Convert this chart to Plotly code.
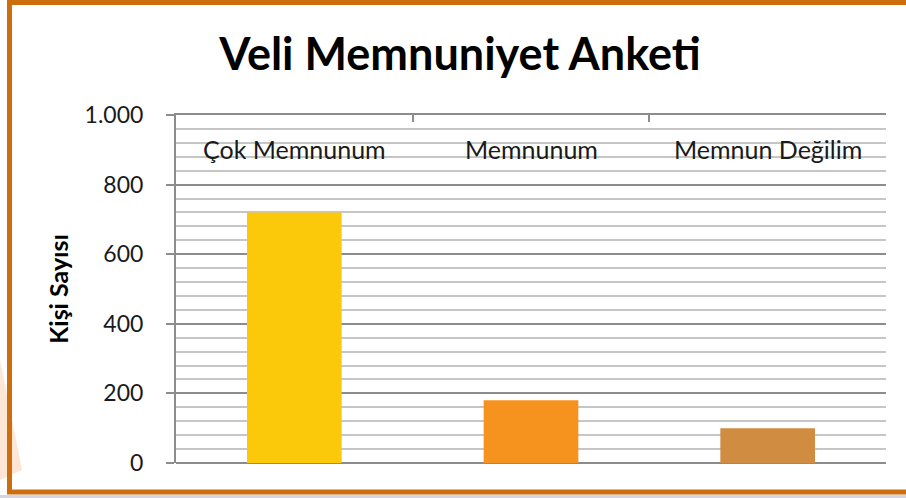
import plotly.graph_objects as go

categories = ["Çok Memnunum", "Memnunum", "Memnun Değilim"]
values = [720, 180, 100]
bar_colors = ["#FCC80A", "#F6921E", "#D08C40"]
y_ticks = [0, 200, 400, 600, 800, 1000]
title_text = "Veli Memnuniyet Anketi"
y_title = "Kişi Sayısı"

W, H = 906, 498
L, R, T, B = 176, 20, 115, 35
pw, ph = W - L - R, H - T - B

def px(x):
    return (x - L) / pw

def py(y):
    return (H - B - y) / ph

fig = go.Figure()
fig.add_trace(go.Bar(x=categories, y=values, marker=dict(color=bar_colors, line=dict(width=0)),
                     hoverinfo="x+y"))

grid_major = "#8C8C8C"
grid_minor = "#C6C6C6"
font_family = "Lato, 'Open Sans', sans-serif"

fig.update_layout(
    width=W, height=H,
    margin=dict(l=L, r=R, t=T, b=B),
    paper_bgcolor="white", plot_bgcolor="white",
    separators=",.",
    bargap=0.6,
    showlegend=False,
    font=dict(family=font_family, color="#1a1a1a"),
    title=dict(text="<b>" + title_text + "</b>", x=460 / W, xanchor="center",
               y=1 - 54 / H, yanchor="middle", font=dict(size=45, color="black")),
    xaxis=dict(side="top", showline=True, linecolor=grid_major, linewidth=2,
               ticks="inside", tickson="boundaries", ticklen=7, tickcolor=grid_major, tickwidth=2,
               showticklabels=False, showgrid=False, zeroline=False),
    yaxis=dict(range=[0, 1000], tickmode="array", tickvals=y_ticks, tickformat=",d",
               showline=True, linecolor=grid_major,
               linewidth=2, ticks="outside", ticklen=8, tickcolor=grid_major, tickwidth=2,
               ticklabelstandoff=18,
               tickfont=dict(size=23, color="#1a1a1a"),
               showgrid=True, gridcolor=grid_major, gridwidth=2,
               zeroline=True, zerolinecolor=grid_major, zerolinewidth=2,
               minor=dict(tickmode="linear", dtick=40, showgrid=True, gridcolor=grid_minor, gridwidth=2),
               title=dict(text="<b>" + y_title + "</b>", font=dict(size=25, color="black"), standoff=9)),
)

# category labels drawn inside the plot, just under the top axis line
for c in categories:
    fig.add_annotation(x=c, xref="x", y=1, yref="paper", yshift=-34, yanchor="middle",
                       text=c, showarrow=False, font=dict(size=25, color="#1a1a1a"))

border = "#CC6E0E"
shapes = [
    dict(type="rect", xref="paper", yref="paper", x0=px(0), x1=px(W), y0=py(495), y1=py(H),
         line=dict(width=0), fillcolor="#D4D4E2", layer="below"),
    dict(type="path", xref="paper", yref="paper",
         path=f"M {px(0)} {py(360)} L {px(22)} {py(470)} L {px(0)} {py(480)} Z",
         line=dict(width=0), fillcolor="#FDE6D6", layer="below"),
    dict(type="path", xref="paper", yref="paper",
         path=(f"M {px(912)} {py(2.5)} L {px(9.5)} {py(2.5)} L {px(9.5)} {py(492)} "
               f"L {px(912)} {py(492)}"),
         line=dict(color=border, width=5)),
]
fig.update_layout(shapes=shapes)

fig.write_html("out.html", config={"displayModeBar": False},
               post_script="document.body.style.margin='0px';document.body.style.overflow='hidden';")
